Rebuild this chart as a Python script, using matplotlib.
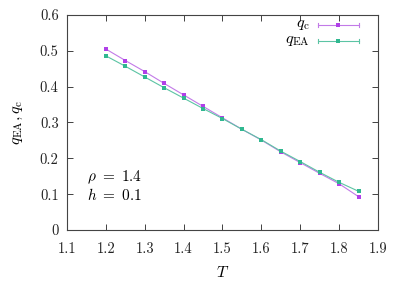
import matplotlib
matplotlib.use("Agg")
import matplotlib.pyplot as plt

T = [1.2, 1.25, 1.3, 1.35, 1.4, 1.45, 1.5, 1.55, 1.6, 1.65, 1.7, 1.75, 1.8, 1.85]
q_c = [0.505, 0.473, 0.442, 0.409, 0.377, 0.345, 0.313, 0.281, 0.251, 0.218, 0.188, 0.158, 0.129, 0.093]
q_EA = [0.486, 0.457, 0.427, 0.397, 0.368, 0.339, 0.311, 0.281, 0.252, 0.220, 0.191, 0.161, 0.133, 0.108]
xticks = [1.1, 1.2, 1.3, 1.4, 1.5, 1.6, 1.7, 1.8, 1.9]
yticks = [0, 0.1, 0.2, 0.3, 0.4, 0.5, 0.6]

plt.rcParams['font.family'] = ['cmr10', 'DejaVu Serif']
plt.rcParams['mathtext.fontset'] = 'cm'
plt.rcParams['axes.formatter.use_mathtext'] = True

c_qc = '#b040e8'
c_qea = '#30b890'
l_qc = '#c27ae8'
l_qea = '#5cc4a4'

fig = plt.figure(figsize=(4.06, 2.82), dpi=100)
ax = fig.add_axes([67/406, 1-230/282, (378-67)/406, (230-15)/282])

ax.plot(T, q_c, color=l_qc, lw=0.8)
ax.plot(T, q_EA, color=l_qea, lw=0.8)
ax.plot(T, q_c, ls='none', marker='s', ms=2.3, color=c_qc, mew=0)
ax.plot(T, q_EA, ls='none', marker='s', ms=2.3, color=c_qea, mew=0)

ax.set_xlim(1.1, 1.9)
ax.set_ylim(0, 0.6)
ax.set_xticks(xticks)
ax.set_yticks(yticks)
ax.set_xticklabels([f'{v:g}' for v in xticks])
ax.set_yticklabels([f'{v:g}' for v in yticks])
ax.tick_params(direction='in', length=4, width=0.6, top=True, right=True,
               labelsize=10.5, colors='#222222', pad=6)
ax.tick_params(axis='x', pad=9)
for s in ax.spines.values():
    s.set_linewidth(0.8)
    s.set_color('#444444')

ax.set_xlabel(r'$T$', fontsize=11.5, labelpad=6)
ax.set_ylabel(r'$q_{\mathrm{EA}}, q_{\mathrm{c}}$', fontsize=11.5, labelpad=11)

ax.text(0.065, 0.245, r'$\rho\ =\ 1.4$', transform=ax.transAxes, fontsize=11, va='center')
ax.text(0.065, 0.165, r'$h\ =\ 0.1$', transform=ax.transAxes, fontsize=11, va='center')

# gnuplot-style key
labels = [r'$q_{\mathrm{c}}$', r'$q_{\mathrm{EA}}$']
lcols = [l_qc, l_qea]
mcols = [c_qc, c_qea]
ys = [1-(25-15)/215, 1-(41-15)/215]
x0 = (318-67)/311
x1 = (359-67)/311
xt = (310-67)/311
for lab, lc, mc, yk in zip(labels, lcols, mcols, ys):
    ax.text(xt, yk, lab, transform=ax.transAxes, fontsize=11.5, ha='right', va='center')
    ax.plot([x0, x1], [yk, yk], transform=ax.transAxes, color=lc, lw=0.8, clip_on=False)
    ax.plot([x0, x0], [yk-0.01, yk+0.01], transform=ax.transAxes, color=lc, lw=0.8, clip_on=False)
    ax.plot([x1, x1], [yk-0.01, yk+0.01], transform=ax.transAxes, color=lc, lw=0.8, clip_on=False)
    ax.plot([(x0+x1)/2], [yk], transform=ax.transAxes, ls='none', color=mc, marker='s', ms=2.3, mew=0, clip_on=False)

fig.savefig('out.png', dpi=100)
